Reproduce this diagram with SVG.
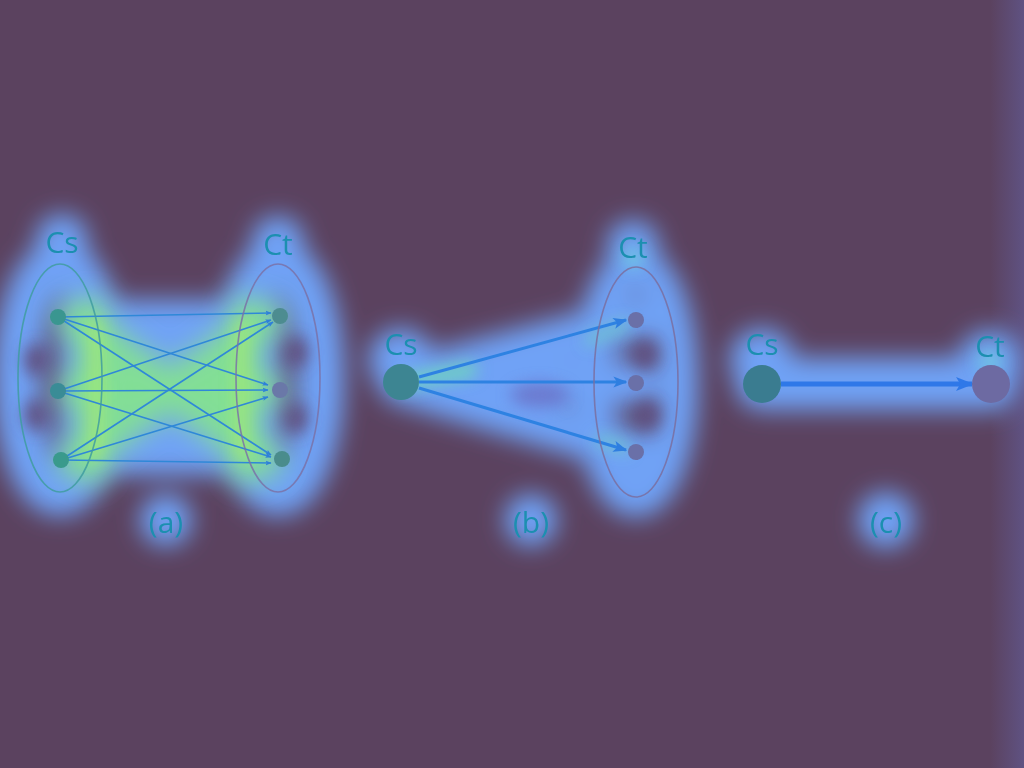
<svg xmlns="http://www.w3.org/2000/svg" width="1024" height="768" viewBox="0 0 1024 768">
<defs>
<filter id="b1" x="-50%" y="-50%" width="200%" height="200%"><feGaussianBlur stdDeviation="12"/></filter>
<filter id="b2" x="-50%" y="-50%" width="200%" height="200%"><feGaussianBlur stdDeviation="8"/></filter>
<filter id="b3" x="-50%" y="-50%" width="200%" height="200%"><feGaussianBlur stdDeviation="14"/></filter>
<linearGradient id="edge" x1="0" x2="1" y1="0" y2="0">
<stop offset="0" stop-color="#5b425f"/><stop offset="1" stop-color="#5f5282"/>
</linearGradient>
<marker id="ah" viewBox="0 0 10 10" refX="9" refY="5" markerWidth="6" markerHeight="6" orient="auto" markerUnits="userSpaceOnUse">
<path d="M0,1 L10,5 L0,9 L2,5 Z" fill="#2f80d8"/>
</marker>
<marker id="ah2" viewBox="0 0 10 10" refX="9" refY="5" markerWidth="14" markerHeight="14" orient="auto" markerUnits="userSpaceOnUse">
<path d="M0,1 L10,5 L0,9 L2.5,5 Z" fill="#2f7ee0"/>
</marker>
<marker id="ah3" viewBox="0 0 10 10" refX="9" refY="5" markerWidth="18" markerHeight="18" orient="auto" markerUnits="userSpaceOnUse">
<path d="M0,1 L10,5 L0,9 L2.5,5 Z" fill="#2f78e8"/>
</marker>
</defs>
<style>
.lbl{font-family:"Open Sans","Liberation Sans",sans-serif;font-size:30px;fill:#1c8fb0;text-anchor:middle}
.halo{fill:none;stroke:#70a2f6;stroke-linecap:round}
.grn{fill:none;stroke:#86ea84;stroke-linecap:round}
.la{stroke:#2f88d8;stroke-width:1.6;fill:none;marker-end:url(#ah)}
.lb{stroke:#2e82e2;stroke-width:3;fill:none;marker-end:url(#ah2)}
</style>
<rect width="1024" height="768" fill="#5b425f"/>
<rect x="990" y="0" width="34" height="768" fill="url(#edge)"/>

<g id="heat">
<g filter="url(#b1)">
<ellipse class="halo" cx="60" cy="378" rx="42" ry="114" stroke-width="48"/>
<ellipse class="halo" cx="278" cy="378" rx="42" ry="114" stroke-width="48"/>
<rect x="60" y="300" width="220" height="175" fill="#70a2f6"/>
<circle cx="62" cy="240" r="26" fill="#70a2f6"/>
<circle cx="278" cy="242" r="26" fill="#70a2f6"/>
<circle cx="166" cy="520" r="26" fill="#70a2f6"/>
<path class="halo" d="M401,382 L636,320 M401,382 L636,383 M401,382 L636,452" stroke-width="44"/>
<ellipse class="halo" cx="636" cy="382" rx="42" ry="115" stroke-width="40"/>
<circle cx="401" cy="360" r="32" fill="#70a2f6"/>
<circle cx="633" cy="246" r="26" fill="#70a2f6"/>
<circle cx="531" cy="520" r="26" fill="#70a2f6"/>
<path class="halo" d="M762,384 L991,384" stroke-width="52"/>
<circle cx="762" cy="360" r="32" fill="#70a2f6"/>
<circle cx="990" cy="362" r="32" fill="#70a2f6"/>
<circle cx="886" cy="520" r="28" fill="#70a2f6"/>
</g>
<g filter="url(#b2)" fill="#5e4a78" opacity="0.85">
<ellipse cx="36" cy="360" rx="12" ry="16"/>
<ellipse cx="36" cy="415" rx="12" ry="16"/>
<ellipse cx="296" cy="352" rx="12" ry="16"/>
<ellipse cx="296" cy="418" rx="12" ry="16"/>
<ellipse cx="645" cy="355" rx="12" ry="14"/>
<ellipse cx="648" cy="415" rx="12" ry="14"/>
<ellipse cx="540" cy="395" rx="30" ry="12" fill="#6a72c8"/>
</g>
<g filter="url(#b3)">
<path class="grn" d="M75,320 L265,460 M75,460 L265,320 M75,390 L265,390" stroke-width="34" opacity="0.85"/>
<path class="grn" d="M92,310 L92,470 M245,310 L245,470" stroke-width="26" opacity="0.9"/>
</g>
<g filter="url(#b2)">
<path d="M96,320 L96,460 M242,320 L242,460" stroke="#b6ea6a" stroke-width="10" opacity="0.7"/>
<path d="M405,382 L470,370" stroke="#6ee3b0" stroke-width="14" stroke-linecap="round" opacity="0.8"/>
<path d="M590,340 L625,325 M600,440 L625,448" stroke="#6ee3b0" stroke-width="10" stroke-linecap="round" opacity="0.6"/>
<circle cx="633" cy="258" r="10" fill="#6ee3d0" opacity="0.6"/>
<circle cx="990" cy="362" r="12" fill="#6ee3d0" opacity="0.5"/>
</g>
</g>

<g id="connectors">
<path class="la" d="M58,317 L271,313"/>
<path class="la" d="M58,317 L268,385"/>
<path class="la" d="M58,317 L271,455"/>
<path class="la" d="M58,391 L271,320"/>
<path class="la" d="M58,391 L268,390"/>
<path class="la" d="M58,391 L271,457"/>
<path class="la" d="M61,460 L273,322"/>
<path class="la" d="M61,460 L268,397"/>
<path class="la" d="M61,460 L271,463"/>
<path class="lb" d="M419,377 L626,320"/>
<path class="lb" d="M419,382 L626,382"/>
<path class="lb" d="M419,388 L626,450"/>
<path d="M781,384 L972,384" stroke="#2f78e8" stroke-width="5" fill="none" marker-end="url(#ah3)"/>
</g>

<g id="a">
<ellipse cx="60" cy="378" rx="42" ry="114" fill="none" stroke="#3f9ca0" stroke-width="1.6" opacity="0.85"/>
<ellipse cx="278" cy="378" rx="42" ry="114" fill="none" stroke="#7a72a8" stroke-width="1.6" opacity="0.85"/>
<circle cx="58" cy="317" r="8" fill="#3a9690"/>
<circle cx="58" cy="391" r="8" fill="#3a8c96"/>
<circle cx="61" cy="460" r="8" fill="#3a9a8c"/>
<circle cx="280" cy="316" r="8" fill="#4d8c90"/>
<circle cx="280" cy="390" r="8" fill="#6a78a8"/>
<circle cx="282" cy="459" r="8" fill="#4a8c8c"/>
<text class="lbl" x="62" y="253">Cs</text>
<text class="lbl" x="278" y="255">Ct</text>
<text class="lbl" x="166" y="533">(a)</text>
</g>

<g id="b">
<ellipse cx="636" cy="382" rx="42" ry="115" fill="none" stroke="#7a6ea0" stroke-width="1.6" opacity="0.85"/>
<circle cx="401" cy="382" r="18" fill="#3d8592"/>
<circle cx="636" cy="320" r="8" fill="#6a70a8"/>
<circle cx="636" cy="383" r="8" fill="#6a70a8"/>
<circle cx="636" cy="452" r="8" fill="#6a70a8"/>
<text class="lbl" x="401" y="355">Cs</text>
<text class="lbl" x="633" y="258">Ct</text>
<text class="lbl" x="531" y="533">(b)</text>
</g>

<g id="c">
<circle cx="762" cy="384" r="19" fill="#3a7c90"/>
<circle cx="991" cy="384" r="19" fill="#6d6aa2"/>
<text class="lbl" x="762" y="355">Cs</text>
<text class="lbl" x="990" y="357">Ct</text>
<text class="lbl" x="886" y="533">(c)</text>
</g>
</svg>
